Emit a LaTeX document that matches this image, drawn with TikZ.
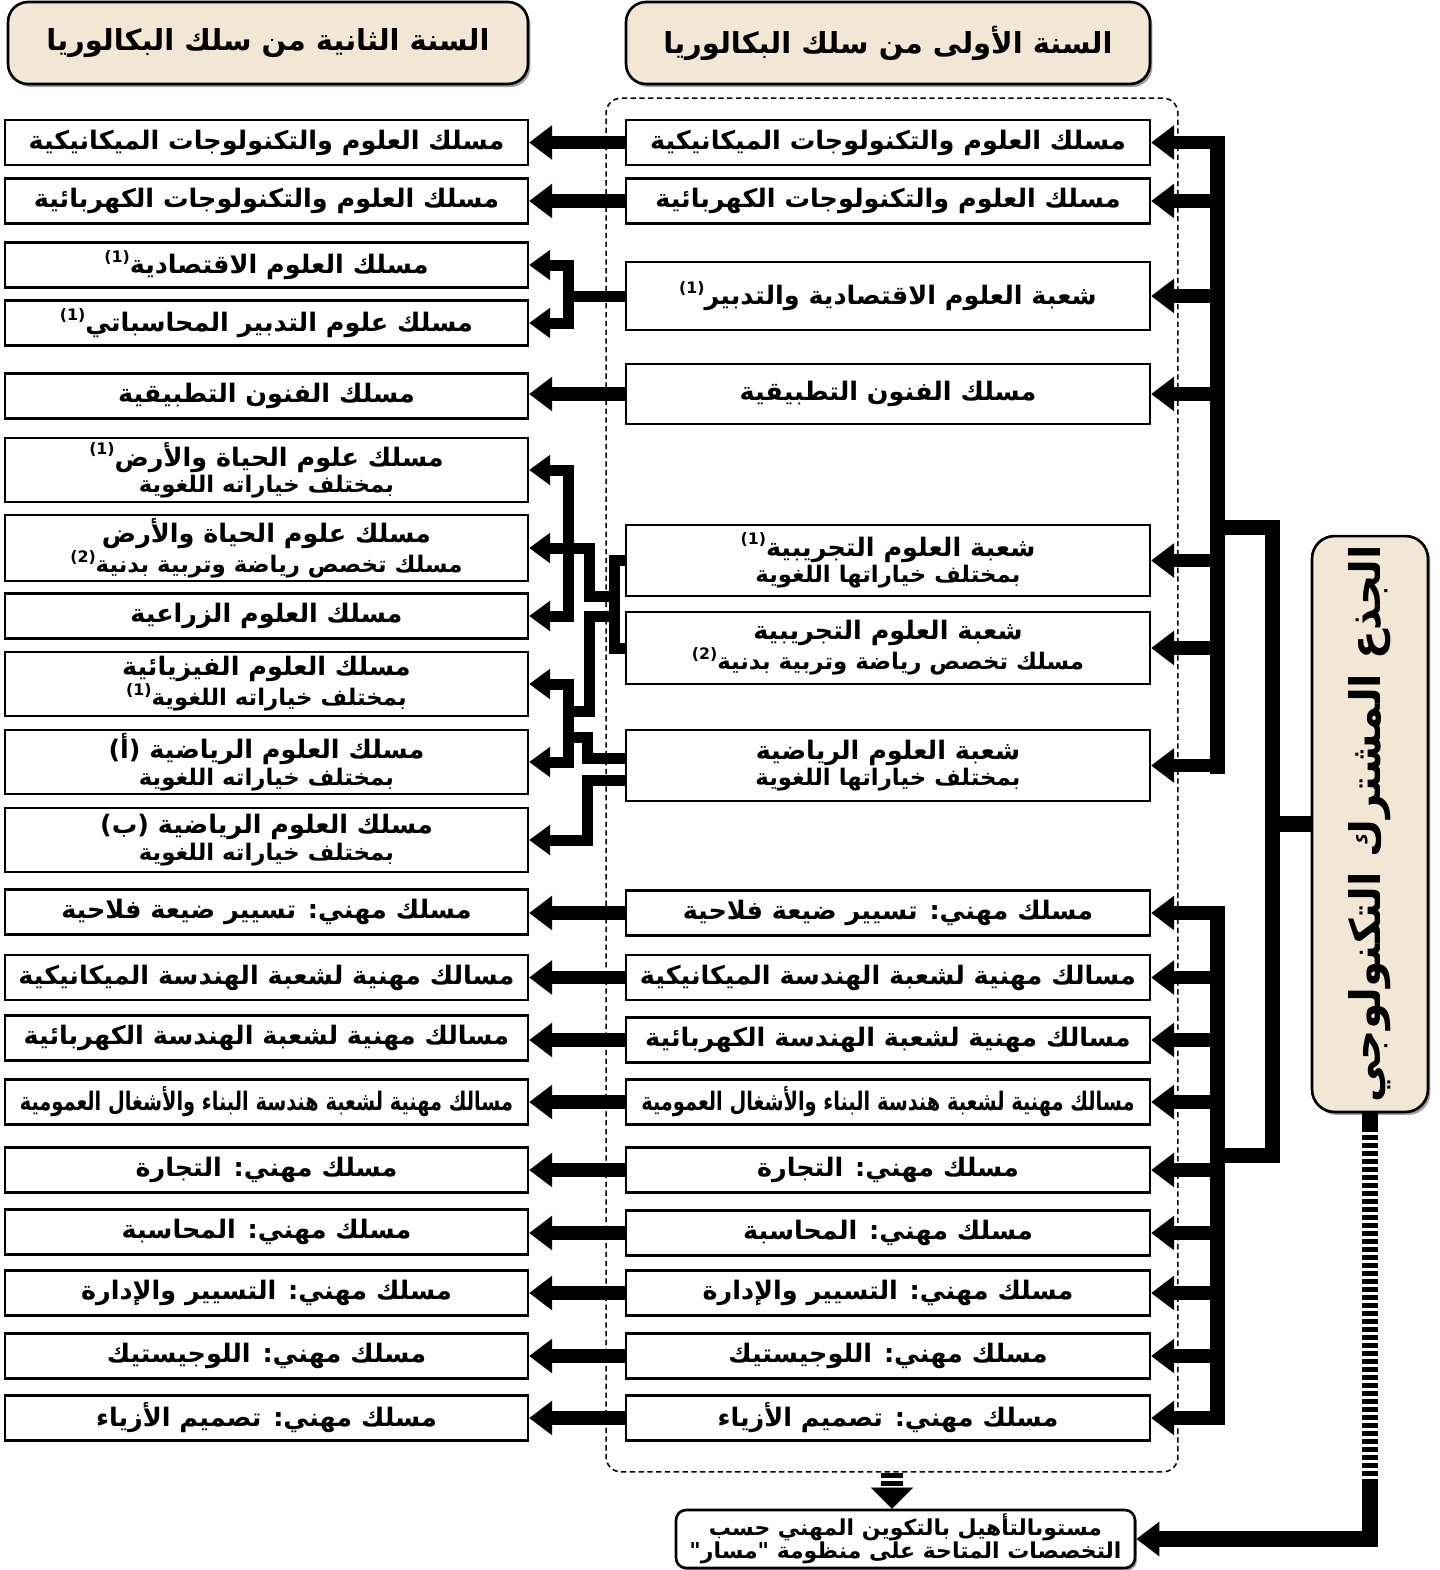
\documentclass[tikz,border=0pt]{standalone}
\usepackage{fontspec}
\usepackage{xcolor}
\usepackage{graphicx}
\usepackage{tikz}
\usetikzlibrary{arrows.meta,shadows,calc}
\TeXXeTstate=1
\newfontfamily\arfont[Script=Arabic]{DejaVu Sans}
\definecolor{sand}{RGB}{242,231,212}
\newcommand\ar[1]{\beginR#1\endR}
\newcommand\narrow[1]{\scalebox{0.76}[1]{\beginR#1\endR}}
\newcommand\lowline[1]{{\fontsize{13}{13.5}\selectfont\beginR#1\endR}}
\newcommand\fnum[1]{\raisebox{0.8ex}{\fontsize{9}{9}\selectfont(#1)}}
\tikzset{
  colbox/.style={draw, line width=1.3pt, fill=white, align=center, inner sep=2pt,
    font=\arfont\bfseries\fontsize{14.5}{15}\selectfont},
  rbox/.style={colbox, minimum width=10.48cm, minimum height=0.9cm},
  lbox/.style={colbox, minimum width=10.46cm, minimum height=0.9cm},
  yearbox/.style={draw, line width=1.5pt, fill=sand, rounded corners=0.4cm,
    minimum height=1.64cm, font=\arfont\bfseries\fontsize{16.5}{20}\selectfont,
    drop shadow={shadow xshift=0.05cm, shadow yshift=-0.06cm, fill=black!75}},
  trunkbox/.style={draw, line width=1.5pt, fill=sand, rounded corners=0.45cm,
    minimum width=2.32cm, minimum height=11.52cm,
    drop shadow={shadow xshift=0.05cm, shadow yshift=-0.06cm, fill=black!75}},
  endbox/.style={draw, line width=1.5pt, fill=white, rounded corners=0.2cm, align=center,
    minimum width=9.18cm, minimum height=1.16cm, inner sep=1pt,
    font=\arfont\bfseries\fontsize{12.5}{13}\selectfont,
    drop shadow={shadow xshift=0.04cm, shadow yshift=-0.05cm, fill=black!75}},
  frame/.style={draw, line width=0.9pt, dash pattern=on 3pt off 2pt, rounded corners=0.3cm,
    minimum width=11.44cm, minimum height=27.48cm},
  feed/.style={line width=0.27cm, line join=miter, -{Triangle[length=0.46cm,width=0.66cm]}},
  spine/.style={line width=0.3cm, line join=miter},
  link/.style={line width=0.22cm, line join=miter},
  linkfeed/.style={link, -{Triangle[length=0.42cm,width=0.58cm]}},
  stripe/.style={line width=0.32cm, dash pattern=on 0.1cm off 0.06cm}
}
\begin{document}
\begin{tikzpicture}[x=0.02cm, y=-0.02cm]
  \useasboundingbox (0,0) rectangle (1440,1570);

  % frame of the first year
  \node[frame] (frame) at (892,785) {};

  % headers
  \node[yearbox, minimum width=10.4cm] (yearTwo) at (268,43) {\ar{السنة الثانية من سلك البكالوريا}};
  \node[yearbox, minimum width=10.48cm] (yearOne) at (888,43) {\ar{السنة الأولى من سلك البكالوريا}};

  % first year
  \node[rbox] (r1) at (888,142.5) {\ar{مسلك العلوم والتكنولوجات الميكانيكية}};
  \node[rbox] (r2) at (888,201) {\ar{مسلك العلوم والتكنولوجات الكهربائية}};
  \node[rbox, minimum height=1.36cm] (r3) at (888,296) {\ar{شعبة العلوم الاقتصادية والتدبير\fnum{1}}};
  \node[rbox, minimum height=1.2cm] (r4) at (888,394) {\ar{مسلك الفنون التطبيقية}};
  \node[rbox, minimum height=1.42cm] (r5) at (888,560.5) {\ar{شعبة العلوم التجريبية\fnum{1}}\\\lowline{بمختلف خياراتها اللغوية}};
  \node[rbox, minimum height=1.44cm] (r6) at (888,648) {\ar{شعبة العلوم التجريبية}\\\lowline{مسلك تخصص رياضة وتربية بدنية\fnum{2}}};
  \node[rbox, minimum height=1.42cm] (r7) at (888,765.5) {\ar{شعبة العلوم الرياضية}\\\lowline{بمختلف خياراتها اللغوية}};
  \node[rbox] (r8) at (888,913) {\ar{مسلك مهني: تسيير ضيعة فلاحية}};
  \node[rbox] (r9) at (888,977.5) {\ar{مسالك مهنية لشعبة الهندسة الميكانيكية}};
  \node[rbox] (r10) at (888,1040) {\ar{مسالك مهنية لشعبة الهندسة الكهربائية}};
  \node[rbox] (r11) at (888,1102) {\narrow{مسالك مهنية لشعبة هندسة البناء والأشغال العمومية}};
  \node[rbox] (r12) at (888,1170) {\ar{مسلك مهني: التجارة}};
  \node[rbox] (r13) at (888,1233) {\ar{مسلك مهني: المحاسبة}};
  \node[rbox] (r14) at (888,1293) {\ar{مسلك مهني: التسيير والإدارة}};
  \node[rbox] (r15) at (888,1356) {\ar{مسلك مهني: اللوجيستيك}};
  \node[rbox] (r16) at (888,1418) {\ar{مسلك مهني: تصميم الأزياء}};

  % second year
  \node[lbox] (l1) at (266.5,142.5) {\ar{مسلك العلوم والتكنولوجات الميكانيكية}};
  \node[lbox] (l2) at (266.5,201) {\ar{مسلك العلوم والتكنولوجات الكهربائية}};
  \node[lbox] (l3a) at (266.5,265) {\ar{مسلك العلوم الاقتصادية\fnum{1}}};
  \node[lbox] (l3b) at (266.5,323) {\ar{مسلك علوم التدبير المحاسباتي\fnum{1}}};
  \node[lbox] (l4) at (266.5,396) {\ar{مسلك الفنون التطبيقية}};
  \node[lbox, minimum height=1.28cm] (l5) at (266.5,470) {\ar{مسلك علوم الحياة والأرض\fnum{1}}\\\lowline{بمختلف خياراته اللغوية}};
  \node[lbox, minimum height=1.28cm] (l6) at (266.5,548) {\ar{مسلك علوم الحياة والأرض}\\\lowline{مسلك تخصص رياضة وتربية بدنية\fnum{2}}};
  \node[lbox] (l7) at (266.5,616) {\ar{مسلك العلوم الزراعية}};
  \node[lbox, minimum height=1.28cm] (l8) at (266.5,684) {\ar{مسلك العلوم الفيزيائية}\\\lowline{بمختلف خياراته اللغوية\fnum{1}}};
  \node[lbox, minimum height=1.28cm] (l9) at (266.5,762) {\ar{مسلك العلوم الرياضية (أ)}\\\lowline{بمختلف خياراته اللغوية}};
  \node[lbox, minimum height=1.28cm] (l10) at (266.5,840) {\ar{مسلك العلوم الرياضية (ب)}\\\lowline{بمختلف خياراته اللغوية}};
  \node[lbox] (l11) at (266.5,912) {\ar{مسلك مهني: تسيير ضيعة فلاحية}};
  \node[lbox] (l12) at (266.5,977.5) {\ar{مسالك مهنية لشعبة الهندسة الميكانيكية}};
  \node[lbox] (l13) at (266.5,1038) {\ar{مسالك مهنية لشعبة الهندسة الكهربائية}};
  \node[lbox] (l14) at (266.5,1102) {\narrow{مسالك مهنية لشعبة هندسة البناء والأشغال العمومية}};
  \node[lbox] (l15) at (266.5,1170) {\ar{مسلك مهني: التجارة}};
  \node[lbox] (l16) at (266.5,1232) {\ar{مسلك مهني: المحاسبة}};
  \node[lbox] (l17) at (266.5,1293) {\ar{مسلك مهني: التسيير والإدارة}};
  \node[lbox] (l18) at (266.5,1356) {\ar{مسلك مهني: اللوجيستيك}};
  \node[lbox] (l19) at (266.5,1418) {\ar{مسلك مهني: تصميم الأزياء}};

  % common core and qualification level
  \node[trunkbox] (trunk) at (1370,824) {};
  \node[rotate=90, font=\arfont\bfseries\fontsize{24}{26}\selectfont] (trunktxt) at (trunk) {\ar{الجذع المشترك التكنولوجي}};
  \node[endbox] (level) at (905.5,1539) {\ar{مستوىالتأهيل بالتكوين المهني حسب}\\\ar{التخصصات المتاحة على منظومة "مسار"}};

  % right spines
  \coordinate (uTop) at (1217,136);
  \coordinate (uBot) at (1217,774);
  \coordinate (dTop) at (1217,906);
  \coordinate (dBot) at (1217,1425);
  \coordinate (mTop) at (1272,527);
  \coordinate (mBot) at (1272,1155);
  \draw[spine] (uTop) -- (uBot);
  \draw[spine] (dTop) -- (dBot);
  \draw[spine] (uTop |- mTop) -- (mTop) -- (mBot) -- (dTop |- mBot);
  \draw[spine, line width=0.32cm] (trunk.west) -- (trunk.west -| mTop);
  \foreach \n in {r1,r2,r3,r4,r5,r6,r7,r8,r9,r10,r11,r12,r13,r14,r15,r16}
    \draw[feed] (\n.east -| uTop) -- (\n.east);

  % trunk down to the qualification level
  \draw[line width=0.32cm] (trunk.south) -- ++(0,14) coordinate (t1);
  \draw[stripe] (t1) -- (1370,1482) coordinate (t2);
  \draw[feed, line width=0.32cm] (t2) |- (level.east);
  \draw[stripe, line width=0.44cm] (frame.south) -- ++(0,18) coordinate (f1);
  \draw[-{Triangle[length=0.42cm,width=0.84cm]}, line width=0.1pt] (f1) -- (f1 |- level.north);

  % one to one
  \foreach \a/\b in {r1/l1,r2/l2,r4/l4,r8/l11,r9/l12,r10/l13,r11/l14,r12/l15,r13/l16,r14/l17,r15/l18,r16/l19}
    \draw[feed] (\a.west) -- (\a.west -| \b.east);

  % economics
  \coordinate (j3) at (568,296);
  \draw[link] (r3.west) -- (j3);
  \draw[linkfeed] (j3) |- (l3a.east);
  \draw[linkfeed] (j3) |- (l3b.east);

  % sciences
  \coordinate (jA) at (614,596);
  \coordinate (jB) at (614,616);
  \coordinate (jC) at (568,548);
  \coordinate (jD) at (568,711);
  \coordinate (jE) at (568,737);
  \draw[link] (r5.west) -| (jA |- r6.west) -- (r6.west);
  \draw[linkfeed] (jA) -- ++(-25,0) |- (l6.east);
  \draw[linkfeed] (jC) |- (l5.east);
  \draw[linkfeed] (jC) |- (l7.east);
  \draw[link] (jB) -- ++(-25,0) |- (jD);
  \draw[linkfeed] (jD) |- (l8.east);
  \draw[linkfeed] (jD) |- (l9.east);
  \draw[link] ($(r7.west)+(0,-7)$) -- ++(-37,0) |- (jE);
  \draw[linkfeed] ($(r7.west)+(0,15)$) -- ++(-37,0) |- (l10.east);
\end{tikzpicture}
\end{document}
